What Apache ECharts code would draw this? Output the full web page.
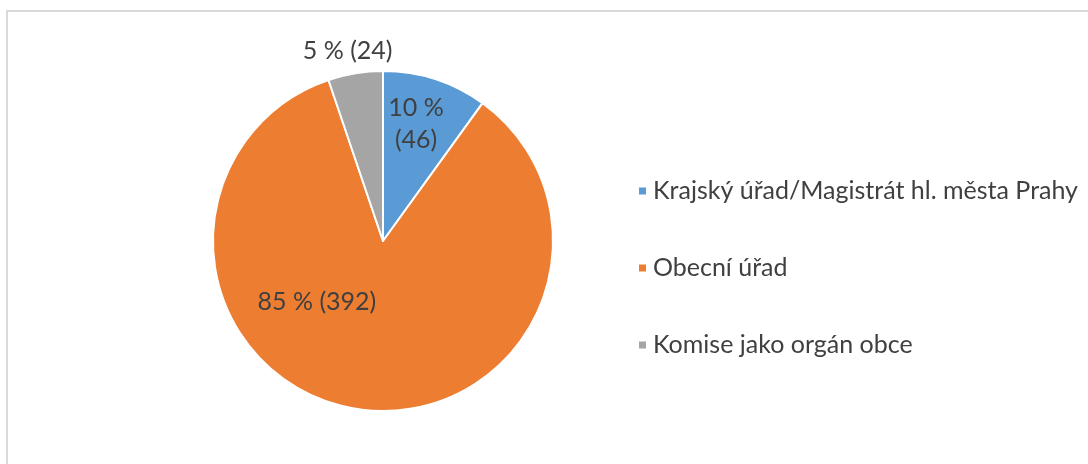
<!DOCTYPE html>
<html>
<head>
<meta charset="utf-8">
<script src="https://cdn.jsdelivr.net/npm/echarts@6/dist/echarts.min.js"></script>
<style>
  html, body { margin: 0; padding: 0; background: #fff; }
  .frame {
    position: absolute;
    left: 6px;
    top: 10px;
    width: 1200px;
    height: 600px;
    border: 2px solid #d9d9d9;
  }
  #chart {
    position: absolute;
    left: 0;
    top: 0;
    width: 1088px;
    height: 464px;
  }
</style>
</head>
<body>
<div class="frame"></div>
<div id="chart"></div>
<script>
const categories = ['Krajský úřad/Magistrát hl. města Prahy', 'Obecní úřad', 'Komise jako orgán obce']
const counts = [46, 392, 24]
const percents = [10, 85, 5]
const colors = ['#5b9bd5', '#ed7d31', '#a5a5a5']

// label nudges (px) from the slice's inside point
const labelShift = [
  { dx: 6, dy: -33 },
  { dx: -53, dy: -26 },
  { dx: -21, dy: -103 }
]

const chart = echarts.init(document.getElementById('chart'))

const fontFamily = 'Lato, "Open Sans", sans-serif'

const option = {
  animation: false,
  color: colors,
  legend: {
    orient: 'vertical',
    left: 632,
    top: 173,
    icon: 'rect',
    itemWidth: 9,
    itemHeight: 9,
    itemGap: 51,
    textStyle: {
      fontFamily: fontFamily,
      fontSize: 25,
      lineHeight: 26,
      color: '#404040',
      padding: [0, 0, 0, 1]
    },
    data: categories
  },
  series: [
    {
      type: 'pie',
      center: [383, 241],
      radius: 170,
      startAngle: 90,
      clockwise: true,
      itemStyle: {
        borderColor: '#fff',
        borderWidth: 2
      },
      label: {
        position: 'inside',
        fontFamily: fontFamily,
        fontSize: 25,
        lineHeight: 32,
        color: '#404040',
        formatter: function (p) {
          const pct = percents[p.dataIndex] + ' %'
          const cnt = '(' + counts[p.dataIndex] + ')'
          return p.dataIndex === 0 ? pct + '\n' + cnt : pct + ' ' + cnt
        }
      },
      labelLine: { show: false },
      labelLayout: function (params) {
        return labelShift[params.dataIndex]
      },
      emphasis: { disabled: true },
      data: categories.map(function (name, i) {
        return { name: name, value: counts[i] }
      })
    }
  ]
}

chart.setOption(option)
</script>
</body>
</html>
